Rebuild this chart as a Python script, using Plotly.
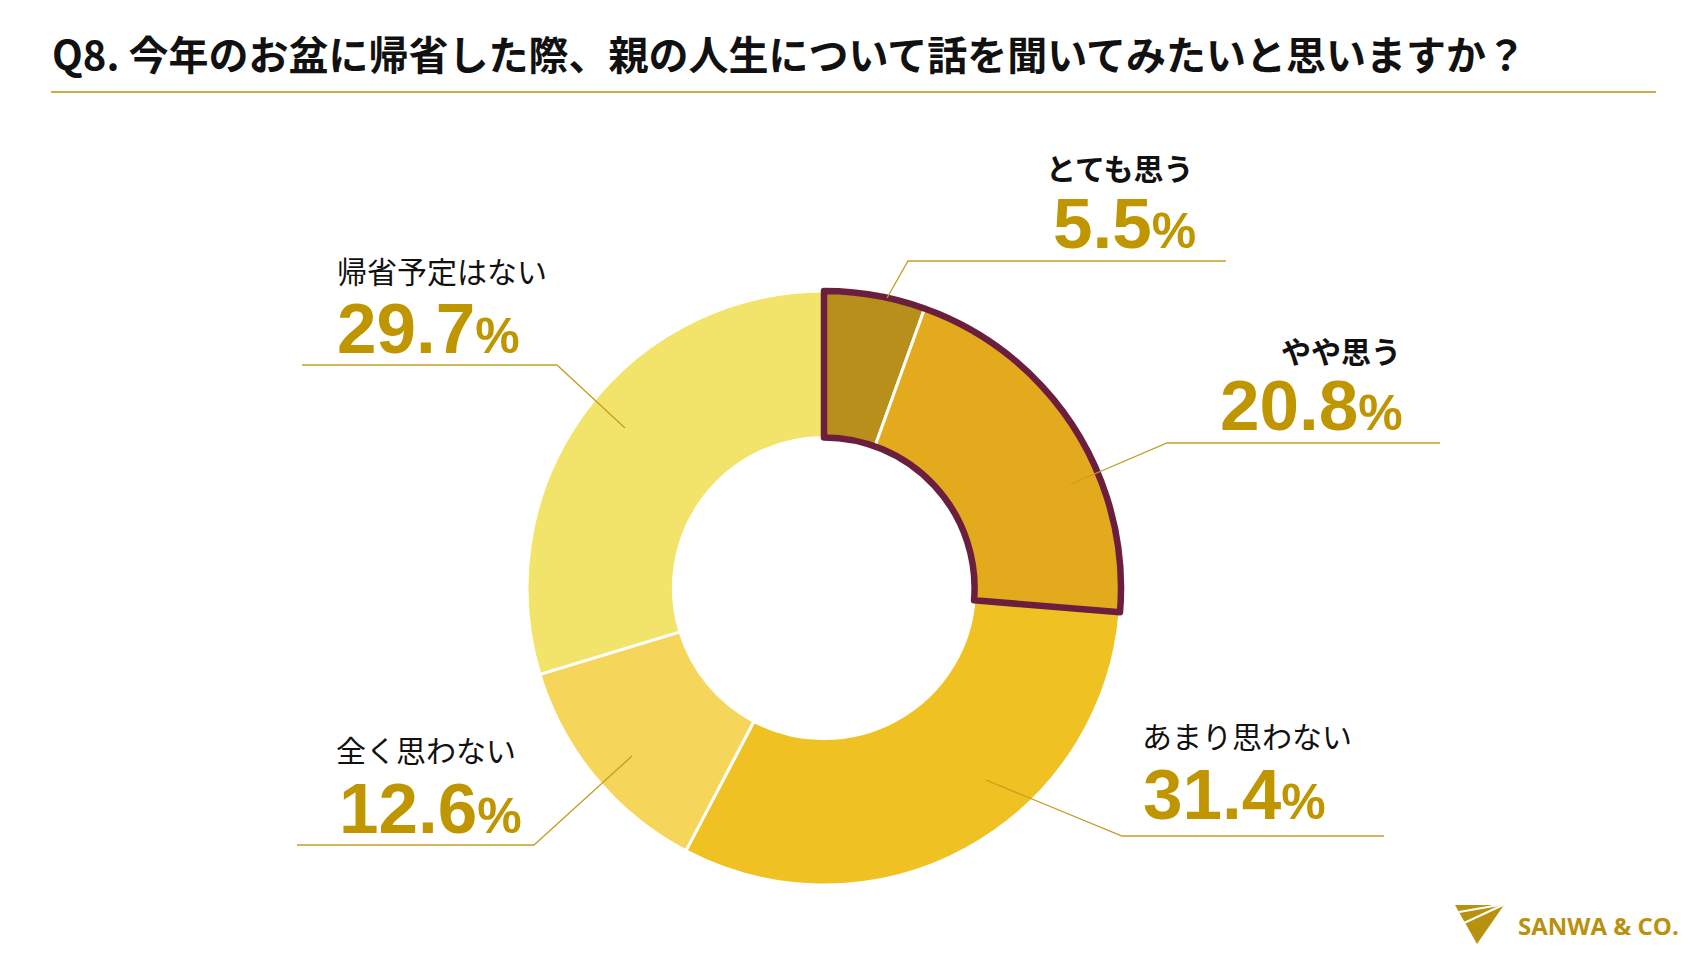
import plotly.graph_objects as go

W, H = 1707, 960

# ---- data ----
categories = ["とても思う", "やや思う", "あまり思わない", "全く思わない", "帰省予定はない"]
values = [5.5, 20.8, 31.4, 12.6, 29.7]
slice_colors = ["#B88F1A", "#E2AA1C", "#F0C123", "#F5D55A", "#F2E46A"]
highlight_count = 2  # first two categories outlined

title_text = "Q8. 今年のお盆に帰省した際、親の人生について話を聞いてみたいと思いますか？"

GOLD_TXT = "#BF9500"
GOLD_LINE = "#C49E26"
MAROON = "#6C1E3E"


def px(x):
    return x / W


def py(y):
    return 1 - y / H


# donut placement (pixels)
cx, cy, R = 824, 588, 297
dom_x = [px(cx - R), px(cx + R)]
dom_y = [py(cy + R), py(cy - R)]

fig = go.Figure()
fig.add_trace(go.Pie(
    labels=categories, values=values, sort=False, direction="clockwise",
    rotation=0, hole=0.507, textinfo="none", hoverinfo="label+percent",
    marker=dict(colors=slice_colors, line=dict(color="white", width=3)),
    domain=dict(x=dom_x, y=dom_y), showlegend=False,
))

hi_val = sum(values[:highlight_count])
rest_val = sum(values[highlight_count:])
fig.add_trace(go.Pie(
    labels=["highlight", "rest"], values=[hi_val, rest_val], sort=False,
    direction="clockwise", rotation=0, hole=0.507, textinfo="none",
    hoverinfo="skip",
    marker=dict(colors=["rgba(0,0,0,0)", "rgba(0,0,0,0)"],
                line=dict(color=[MAROON, "rgba(0,0,0,0)"], width=[6.5, 0])),
    domain=dict(x=dom_x, y=dom_y), showlegend=False,
))

annotations = []
shapes = []

# title
annotations.append(dict(
    x=px(50), y=py(53), xref="paper", yref="paper", xanchor="left", yanchor="middle",
    text=title_text, showarrow=False,
    font=dict(family="Noto Sans CJK JP", size=40, color="#111111", weight="bold"),
))
shapes.append(dict(type="line", xref="paper", yref="paper",
                   x0=px(51), x1=px(1656), y0=py(92), y1=py(92),
                   line=dict(color="#CFAE45", width=2)))

# label layout: (label_xy, number_xy, anchor, bold, leader points)
label_layout = [
    ((1120, 167), (1124, 223), "center", True, [(887, 298), (908, 261), (1226, 261)]),
    ((1403, 350), (1405, 406), "right", True, [(1071, 484), (1167, 443), (1440, 443)]),
    ((1140, 735), (1141, 794), "left", False, [(986, 780), (1122, 836), (1384, 836)]),
    ((334, 749), (337, 808), "left", False, [(632, 756), (534, 845), (297, 845)]),
    ((335, 270), (335, 328), "left", False, [(625, 428), (557, 365), (302, 365)]),
]

for cat, val, (lxy, nxy, anc, bold, pts) in zip(categories, values, label_layout):
    annotations.append(dict(
        x=px(lxy[0]), y=py(lxy[1]), xref="paper", yref="paper",
        xanchor=anc, yanchor="middle", showarrow=False, text=cat,
        font=dict(family="Noto Sans CJK JP", size=30, color="#111111",
                  weight="bold" if bold else "normal"),
    ))
    annotations.append(dict(
        x=px(nxy[0]), y=py(nxy[1]), xref="paper", yref="paper",
        xanchor=anc, yanchor="middle", showarrow=False,
        text=f"{val:.1f}<span style='font-size:50px'>%</span>",
        font=dict(family="Liberation Sans", size=71, color=GOLD_TXT, weight="bold"),
    ))
    path = "M " + " L ".join(f"{px(x)},{py(y)}" for x, y in pts)
    shapes.append(dict(type="path", xref="paper", yref="paper", path=path,
                       line=dict(color=GOLD_LINE, width=1.3)))

# logo
tri = [(1455, 905), (1504, 905), (1477, 944)]
shapes.append(dict(type="path", xref="paper", yref="paper",
                   path="M " + " L ".join(f"{px(x)},{py(y)}" for x, y in tri) + " Z",
                   fillcolor="#B8920E", line=dict(width=0)))
for (x0, y0) in [(1459, 912), (1464, 923)]:
    shapes.append(dict(type="line", xref="paper", yref="paper",
                       x0=px(1505), y0=py(904), x1=px(x0), y1=py(y0),
                       line=dict(color="white", width=2)))
annotations.append(dict(
    x=px(1516), y=py(925), xref="paper", yref="paper", xanchor="left", yanchor="middle",
    text="SANWA &amp; CO.", showarrow=False,
    font=dict(family="Open Sans", size=24, color="#B8920E", weight="bold"),
))

fig.update_layout(
    width=W, height=H, margin=dict(l=0, r=0, t=0, b=0),
    paper_bgcolor="white", plot_bgcolor="white",
    annotations=annotations, shapes=shapes, showlegend=False,
)

fig.write_html("out.html", config={"displayModeBar": False},
               post_script="document.body.style.margin='0';")
